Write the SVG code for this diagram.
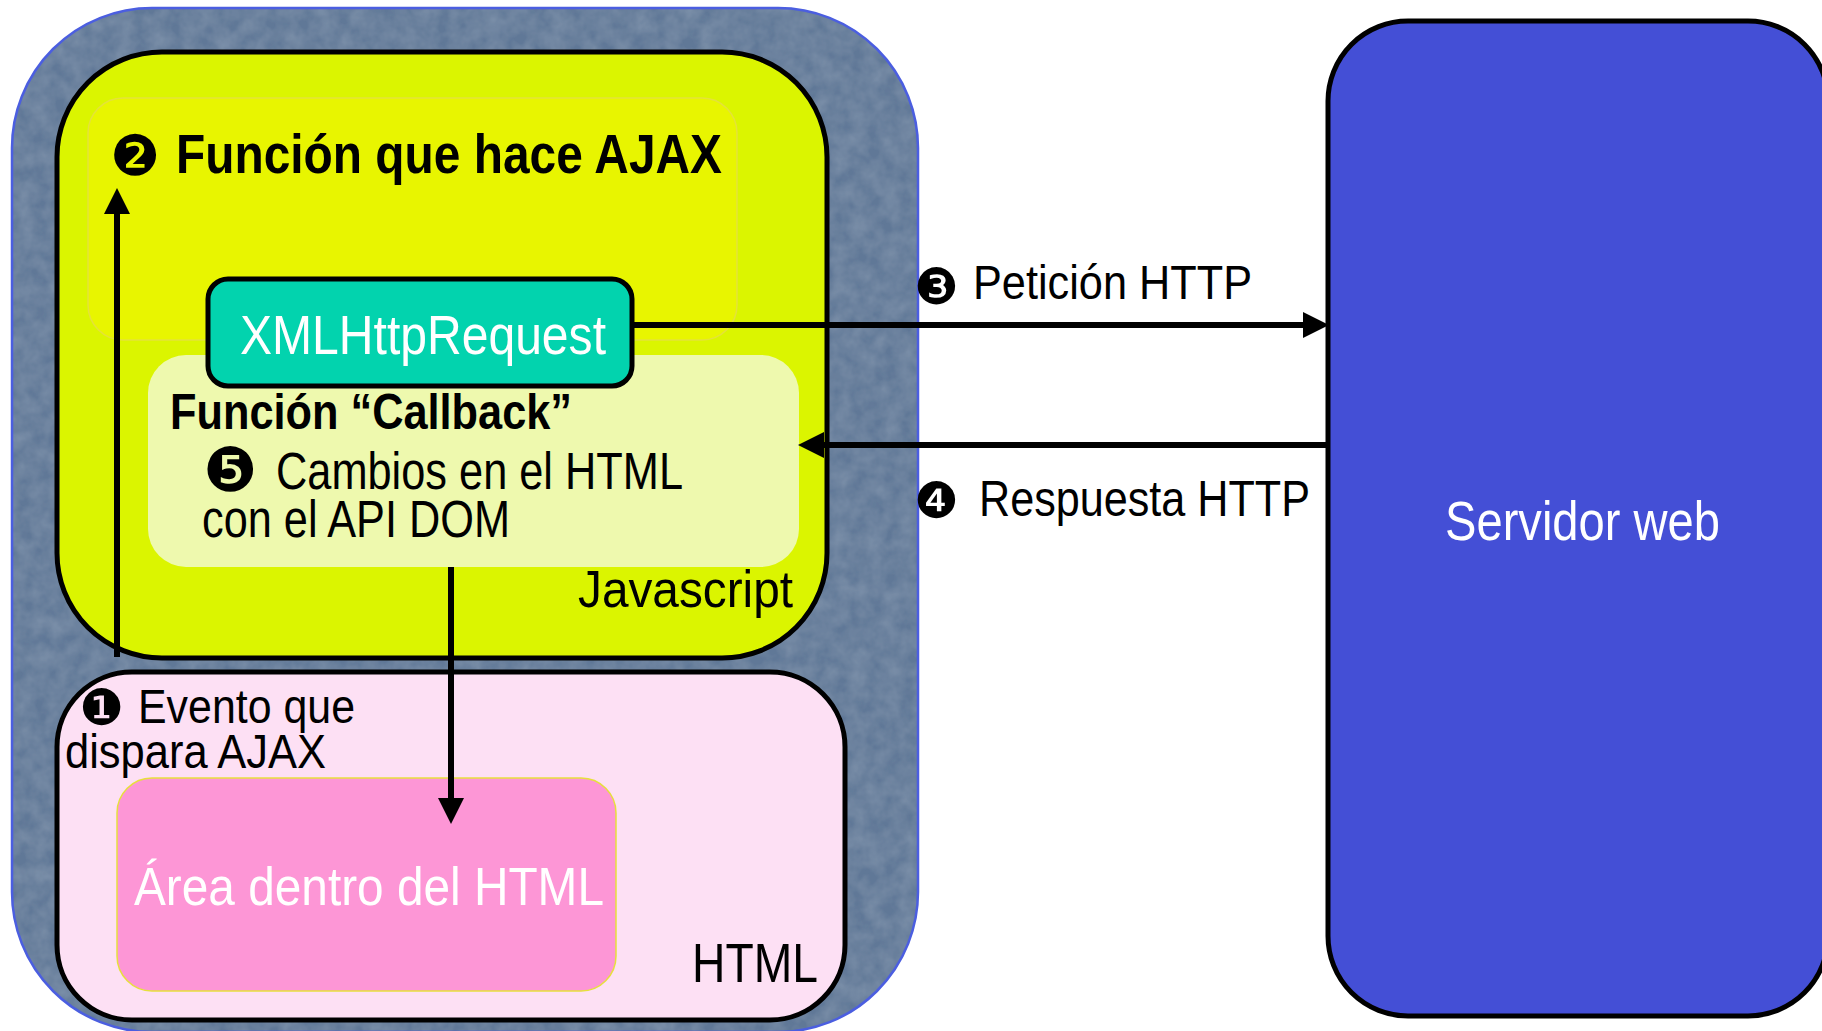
<svg xmlns="http://www.w3.org/2000/svg" width="1822" height="1031" viewBox="0 0 1822 1031">
<style>
  .t { font-family: "Liberation Sans", Arial, sans-serif; }
  .b { font-weight: bold; }
  .n { font-family: "DejaVu Sans", sans-serif; fill: #000; }
  .conn { stroke: #000; stroke-width: 6; fill: none; marker-end: url(#ah); }
  .frame { stroke: #000; stroke-width: 5; }
</style>
<defs>
  <marker id="ah" markerUnits="userSpaceOnUse" markerWidth="26" markerHeight="26" refX="12" refY="12" orient="auto" viewBox="0 0 24 24">
    <path d="M0,0 L24,12 L0,24 z" fill="#000"/>
  </marker>
  <filter id="grain" x="0" y="0" width="100%" height="100%">
    <feTurbulence type="fractalNoise" baseFrequency="0.06" numOctaves="3" seed="4" result="noise"/>
    <feColorMatrix in="noise" type="matrix" values="0 0 0 0 0.45  0 0 0 0 0.55  0 0 0 0 0.66  0 0 0 0.35 -0.08" result="tint"/>
    <feComposite in="tint" in2="SourceGraphic" operator="in" result="tex"/>
    <feMerge><feMergeNode in="SourceGraphic"/><feMergeNode in="tex"/></feMerge>
  </filter>
</defs>
<rect width="1822" height="1031" fill="#ffffff"/>

<g id="browser">
  <rect x="12" y="8" width="906" height="1024" rx="140" ry="140" fill="#607897" filter="url(#grain)"/>
  <rect x="12" y="8" width="906" height="1024" rx="140" ry="140" fill="none" stroke="#4b5ee0" stroke-width="2.5"/>
</g>

<g id="javascript">
  <rect x="57" y="52" width="770" height="606" rx="105" ry="105" fill="#dbf500" class="frame"/>
  <text class="t" x="578" y="607" font-size="52" textLength="215" lengthAdjust="spacingAndGlyphs">Javascript</text>
</g>

<g id="funcion-ajax">
  <rect x="88" y="98" width="649" height="242" rx="35" ry="35" fill="#e8f500" stroke="#e4e23a" stroke-width="1.5"/>
  <text class="n" x="110" y="175" font-size="56">❷</text>
  <text class="t b" x="176" y="173" font-size="55" textLength="546" lengthAdjust="spacingAndGlyphs">Función que hace AJAX</text>
</g>

<g id="callback">
  <rect x="148" y="355" width="651" height="212" rx="38" ry="38" fill="#eef9ae"/>
  <text class="t b" x="170" y="429" font-size="50" textLength="402" lengthAdjust="spacingAndGlyphs">Función “Callback”</text>
  <text class="n" x="203" y="491" font-size="61">❺</text>
  <text class="t" x="276" y="489" font-size="51" textLength="407" lengthAdjust="spacingAndGlyphs">Cambios en el HTML</text>
  <text class="t" x="202" y="537" font-size="51" textLength="308" lengthAdjust="spacingAndGlyphs">con el API DOM</text>
</g>

<g id="xmlhttprequest">
  <rect x="208" y="279" width="424" height="107" rx="20" ry="20" fill="#02d3ae" class="frame"/>
  <text class="t" x="240" y="354" font-size="56" fill="#ffffff" textLength="366" lengthAdjust="spacingAndGlyphs">XMLHttpRequest</text>
</g>

<g id="html">
  <rect x="57" y="672" width="788" height="348" rx="75" ry="75" fill="#fde0f4" class="frame"/>
  <text class="n" x="79" y="725" font-size="50">❶</text>
  <text class="t" x="138" y="723" font-size="49" textLength="217" lengthAdjust="spacingAndGlyphs">Evento que</text>
  <text class="t" x="65" y="768" font-size="49" textLength="261" lengthAdjust="spacingAndGlyphs">dispara AJAX</text>
  <text class="t" x="692" y="982" font-size="56" textLength="126" lengthAdjust="spacingAndGlyphs">HTML</text>
</g>

<g id="area-html">
  <rect x="117" y="778" width="499" height="213" rx="35" ry="35" fill="#fd96d6" stroke="#e6e03c" stroke-width="1.5"/>
  <text class="t" x="134" y="905" font-size="53" fill="#ffffff" textLength="470" lengthAdjust="spacingAndGlyphs">Área dentro del HTML</text>
</g>

<g id="servidor">
  <rect x="1328" y="21" width="500" height="995" rx="80" ry="80" fill="#444fd6" class="frame"/>
  <text class="t" x="1445" y="540" font-size="55" fill="#ffffff" textLength="275" lengthAdjust="spacingAndGlyphs">Servidor web</text>
</g>

<g id="connectors">
  <line class="conn" x1="117" y1="657" x2="117" y2="201"/>
  <line class="conn" x1="632" y1="325" x2="1316" y2="325"/>
  <line class="conn" x1="1328" y1="445" x2="811" y2="445"/>
  <line class="conn" x1="451" y1="567" x2="451" y2="811"/>
  <text class="n" x="914" y="304" font-size="50">❸</text>
  <text class="t" x="973" y="299" font-size="48" textLength="279" lengthAdjust="spacingAndGlyphs">Petición HTTP</text>
  <text class="n" x="914" y="518" font-size="50">❹</text>
  <text class="t" x="979" y="516" font-size="50" textLength="331" lengthAdjust="spacingAndGlyphs">Respuesta HTTP</text>
</g>
</svg>
